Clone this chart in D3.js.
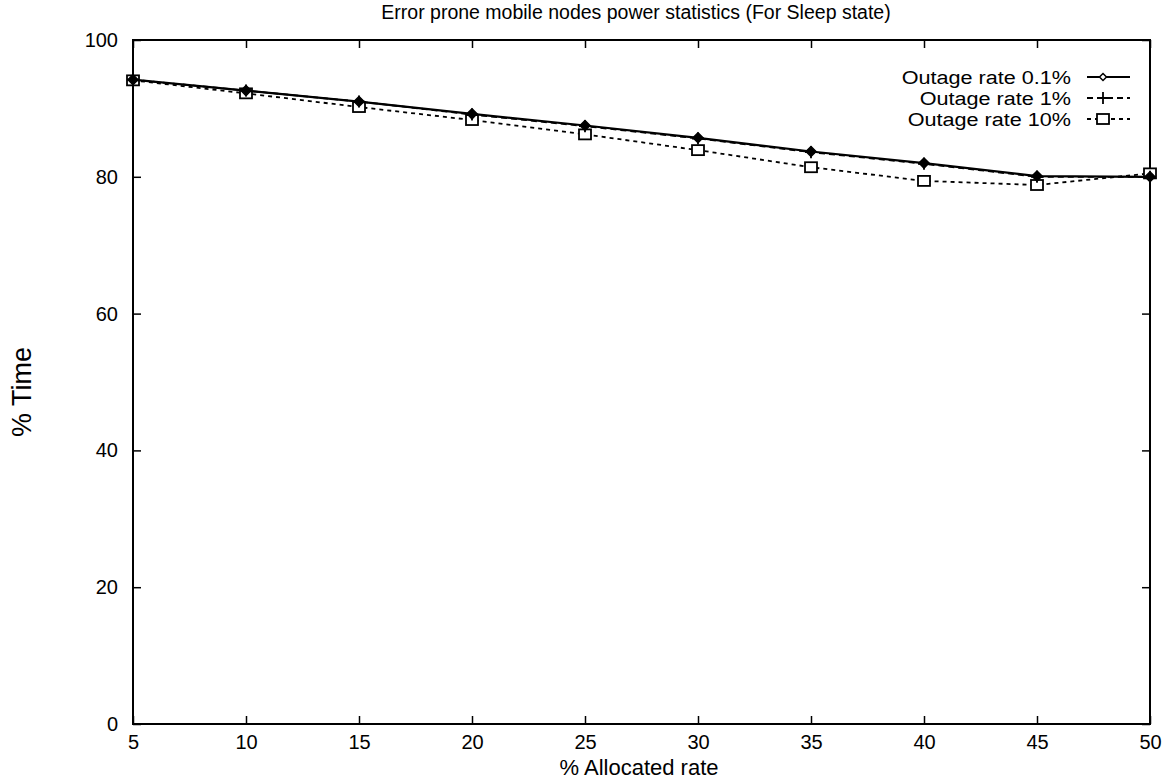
<!DOCTYPE html>
<html><head><meta charset="utf-8">
<script src="https://cdn.jsdelivr.net/npm/d3@7"></script>
<style>body{margin:0;background:#fff}svg{display:block}text{font-family:"Liberation Sans",Arial,sans-serif;fill:#000}</style>
</head><body>
<script>
const xValues = [5,10,15,20,25,30,35,40,45,50];
const rate01 = [94.2,92.6,91.0,89.2,87.5,85.7,83.7,82.0,80.1,80.0];
const rate1  = [94.2,92.6,91.0,89.1,87.4,85.6,83.6,81.9,80.0,80.0];
const rate10 = [94.1,92.2,90.2,88.3,86.2,83.9,81.4,79.4,78.8,80.5];
const xTicks = [5,10,15,20,25,30,35,40,45,50];
const yTicks = [0,20,40,60,80,100];
const seriesNames = ["Outage rate 0.1%","Outage rate 1%","Outage rate 10%"];

const W=1171,H=783;
const m={l:133,r:1150,t:40,b:724};
const svg=d3.select("body").append("svg").attr("width",W).attr("height",H);
const x=d3.scaleLinear().domain([5,50]).range([m.l,m.r]);
const y=d3.scaleLinear().domain([0,100]).range([m.b,m.t]);

svg.append("rect").attr("x",m.l).attr("y",m.t).attr("width",m.r-m.l).attr("height",m.b-m.t)
  .attr("fill","none").attr("stroke","#000").attr("stroke-width",2);

const fs="20px";
svg.append("g").attr("transform",`translate(0,${m.b})`)
  .call(d3.axisBottom(x).tickValues(xTicks).tickSize(-8).tickPadding(11).tickFormat(d3.format("d")))
  .call(g=>{g.select(".domain").remove();g.selectAll("line").attr("stroke-width",1.5);g.selectAll("text").style("font-size",fs).attr("font-family","Liberation Sans, Arial");});
svg.append("g").attr("transform",`translate(0,${m.t})`)
  .call(d3.axisTop(x).tickValues(xTicks).tickSize(-8).tickFormat(""))
  .call(g=>{g.select(".domain").remove();g.selectAll("line").attr("stroke-width",1.5);});
svg.append("g").attr("transform",`translate(${m.l},0)`)
  .call(d3.axisLeft(y).tickValues(yTicks).tickSize(-8).tickPadding(15).tickFormat(d3.format("d")))
  .call(g=>{g.select(".domain").remove();g.selectAll("line").attr("stroke-width",1.5);g.selectAll("text").style("font-size",fs).attr("font-family","Liberation Sans, Arial");});
svg.append("g").attr("transform",`translate(${m.r},0)`)
  .call(d3.axisRight(y).tickValues(yTicks).tickSize(-8).tickFormat(""))
  .call(g=>{g.select(".domain").remove();g.selectAll("line").attr("stroke-width",1.5);});

svg.append("text").attr("x",636).attr("y",19).attr("text-anchor","middle").style("font-size","19.5px")
  .text("Error prone mobile nodes power statistics (For Sleep state)");
svg.append("text").attr("x",639).attr("y",775).attr("text-anchor","middle").style("font-size","22px")
  .text("% Allocated rate");
svg.append("text").attr("transform","translate(31,392) rotate(-90)").attr("text-anchor","middle").style("font-size","27px")
  .text("% Time");

const series=[
  {name:seriesNames[0],vals:rate01,dash:null,marker:"diamond"},
  {name:seriesNames[1],vals:rate1,dash:"6,4",marker:"plus"},
  {name:seriesNames[2],vals:rate10,dash:"4,4",marker:"square"}
];
const line=d3.line().x(d=>x(d[0])).y(d=>y(d[1]));
function drawMarker(g,type,cx,cy){
  if(type==="diamond"){
    g.append("path").attr("d",`M${cx},${cy-5}L${cx+5},${cy}L${cx},${cy+5}L${cx-5},${cy}Z`)
      .attr("fill","#000").attr("stroke","#000").attr("stroke-width",1.5);
  } else if(type==="plus"){
    g.append("path").attr("d",`M${cx-6},${cy}H${cx+6}M${cx},${cy-6}V${cy+6}`).attr("stroke","#000").attr("stroke-width",1.8);
  } else {
    g.append("rect").attr("x",cx-6).attr("y",cy-5).attr("width",12).attr("height",10)
      .attr("fill","#fff").attr("stroke","#000").attr("stroke-width",1.8);
  }
}
[2,1,0].forEach(i=>{
  const s=series[i];
  const pts=xValues.map((xv,j)=>[xv,s.vals[j]]);
  svg.append("path").attr("d",line(pts)).attr("fill","none").attr("stroke","#000")
    .attr("stroke-width",s.dash?1.8:2.2).attr("stroke-dasharray",s.dash);
  const g=svg.append("g");
  pts.forEach(p=>drawMarker(g,s.marker,x(p[0]),y(p[1])));
});

series.forEach((s,i)=>{
  const ly=77+i*21;
  const t=svg.append("text").attr("x",1071).attr("y",ly+7).attr("text-anchor","end").style("font-size","18px").text(s.name);
  const w=t.node().getComputedTextLength();
  t.attr("textLength",w*1.2).attr("lengthAdjust","spacingAndGlyphs");
  svg.append("line").attr("x1",1087).attr("x2",1130).attr("y1",ly).attr("y2",ly)
    .attr("stroke","#000").attr("stroke-width",1.8).attr("stroke-dasharray",s.dash);
  const g=svg.append("g");
  if(s.marker==="diamond"){
    g.append("path").attr("d",`M1103,${ly-3.5}L1106.5,${ly}L1103,${ly+3.5}L1099.5,${ly}Z`).attr("fill","#fff").attr("stroke","#000").attr("stroke-width",1.5);
  } else drawMarker(g,s.marker,1103,ly);
});
</script>
</body></html>
